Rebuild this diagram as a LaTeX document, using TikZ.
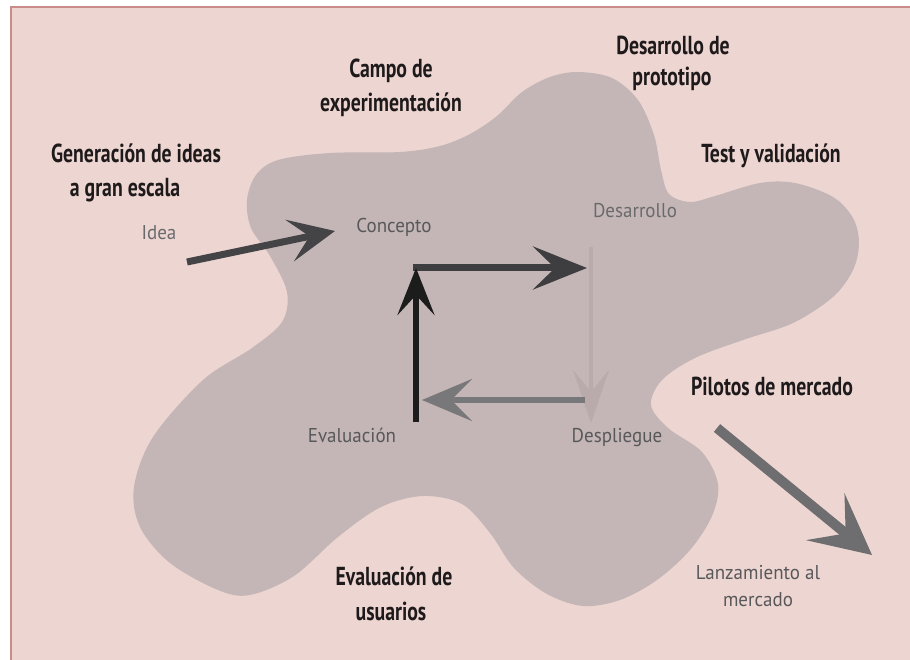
\documentclass[tikz,border=0pt]{standalone}
\usepackage{fontspec}
\setmainfont{PT Sans}
\newfontfamily\boldlab[FakeStretch=0.76]{PT Sans}
\newfontfamily\greylab[FakeStretch=0.95]{PT Sans}
\usetikzlibrary{arrows.meta}
\definecolor{bg}{HTML}{EDD5D1}
\definecolor{blob}{HTML}{C4B6B6}
\definecolor{frame}{HTML}{C98C8A}
\definecolor{txt}{HTML}{1E1A1B}
\definecolor{lab}{HTML}{58585A}
\definecolor{labl}{HTML}{6A6A6C}
\definecolor{adark}{HTML}{444446}
\definecolor{ablack}{HTML}{1C1C1C}
\definecolor{atop}{HTML}{3E3E40}
\definecolor{afaint}{HTML}{B9ABAB}
\definecolor{aleft}{HTML}{78787A}
\definecolor{apil}{HTML}{6E6E70}
\tikzset{
  boldtxt/.style={font=\boldlab\bfseries\fontsize{26}{30}\selectfont, text=txt, anchor=base, inner sep=0pt},
  greytxt/.style={font=\greylab\fontsize{20}{24}\selectfont, text=lab, anchor=base, inner sep=0pt},
  bigarrow/.style={line cap=butt}
}
\begin{document}
\begin{tikzpicture}[x=1pt,y=-1pt]
\useasboundingbox (0,0) rectangle (910,660);
\fill[white] (0,0) rectangle (910,660);
\filldraw[fill=bg, draw=frame, line width=1.6pt] (11,7) rectangle (915,665);
% blob
\fill[blob] plot[smooth cycle, tension=0.55] coordinates {
 (578,72) (612,78) (638,100) (654,135) (661,170) (669,194) (690,202) (715,196) (760,183) (795,183) (833,197) (853,218) (859,243) (853,270) (833,297) (793,323) (743,340) (695,358) (662,380) (651,405) (668,428) (702,452) (718,484) (712,516) (690,550) (657,580) (620,600) (583,606) (547,594) (514,568) (490,533) (462,504) (423,496) (381,507) (338,537) (294,576) (250,595) (218,590) (170,563) (140,527) (134,487) (153,437) (203,380) (252,348) (282,322) (287,292) (270,256) (251,228) (247,200) (256,175) (278,160) (330,153) (400,152) (440,146) (470,134) (497,116) (522,92) (550,77)};
% bold labels
\node[boldtxt] (des1) at (673,55) {Desarrollo de};
\node[boldtxt] (des2) at (672,86) {prototipo};
\node[boldtxt] (cam1) at (391,78) {Campo de};
\node[boldtxt] (cam2) at (391,112) {experimentación};
\node[boldtxt] (gen1) at (136,163) {Generación de ideas};
\node[boldtxt] (gen2) at (125,197) {a gran escala};
\node[boldtxt] (test) at (771,163) {Test y validación};
\node[boldtxt] (pil) at (772,395) {Pilotos de mercado};
\node[boldtxt] (eva1) at (394,585) {Evaluación de};
\node[boldtxt] (eva2) at (391,620) {usuarios};
% grey labels
\node[greytxt, text=labl] (idea) at (159,240) {Idea};
\node[greytxt] (conc) at (394,233) {Concepto};
\node[greytxt, text=labl] (desa) at (635,218) {Desarrollo};
\node[greytxt] (eval) at (352,442) {Evaluación};
\node[greytxt] (desp) at (617,442) {Despliegue};
\node[greytxt] (lan1) at (758,579) {Lanzamiento al};
\node[greytxt] (lan2) at (758,606) {mercado};
% arrow end points
\coordinate (ideaS) at (187,262);
\coordinate (ideaE) at (335,231);
\coordinate (corner) at (416,268);
\coordinate (topE) at (587,268);
\coordinate (downS) at (591,247);
\coordinate (downE) at (591,423);
\coordinate (leftS) at (585,400);
\coordinate (leftE) at (422,400);
\coordinate (upS) at (416,422);
\coordinate (pilS) at (717,428);
\coordinate (pilE) at (872,555);
% arrows
\draw[bigarrow, adark, line width=7pt, -{Stealth[length=46pt, width=42pt, inset=20pt]}] (ideaS) -- (ideaE);
\draw[bigarrow, afaint, line width=4pt, -{Stealth[length=53pt, width=36pt, inset=22pt]}] (downS) -- (downE);
\draw[bigarrow, aleft, line width=6pt, -{Stealth[length=50pt, width=42pt, inset=21pt]}] (leftS) -- (leftE);
\draw[bigarrow, atop, line width=7pt, -{Stealth[length=54pt, width=43pt, inset=22pt]}] ([xshift=-3pt]corner) -- (topE);
\draw[bigarrow, ablack, line width=6pt, -{Stealth[length=47pt, width=37pt, inset=20pt]}] (upS) -- (corner);
\draw[bigarrow, apil, line width=10pt, -{Stealth[length=60pt, width=60pt, inset=26pt]}] (pilS) -- (pilE);
\end{tikzpicture}
\end{document}
